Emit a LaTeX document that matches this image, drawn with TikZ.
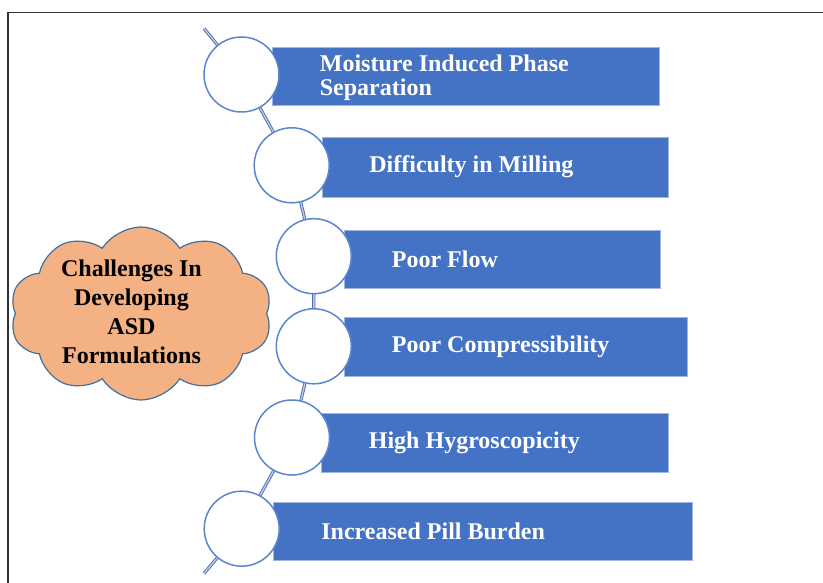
\documentclass[tikz,border=0pt]{standalone}
\usepackage{fontspec}
\setmainfont{Liberation Serif}
\usetikzlibrary{shapes.symbols}
\definecolor{barblue}{HTML}{4472C4}
\definecolor{baredge}{HTML}{9DB5E0}
\definecolor{ringblue}{HTML}{5B86CF}
\definecolor{linkout}{HTML}{4F6FAE}
\definecolor{linkin}{HTML}{BCC9E6}
\definecolor{cloudfill}{HTML}{F4B183}
\definecolor{cloudedge}{HTML}{41719C}
\definecolor{framegray}{HTML}{333333}
\tikzset{
  bar/.style={rectangle, fill=barblue, draw=baredge, line width=0.6pt, inner sep=0pt},
  ring/.style={circle, fill=white, draw=ringblue, line width=1.5pt, minimum size=75pt, inner sep=0pt},
  link/.style={draw=linkout, line width=0.9pt, double=linkin, double distance=1.4pt},
  bartext/.style={anchor=west, inner sep=0pt, text=white, align=left, font=\bfseries\fontsize{24}{24}\selectfont},
  cloudtext/.style={inner sep=0pt, text=black, align=center, font=\bfseries\fontsize{24}{28.8}\selectfont},
  cloudbox/.style={cloud, cloud puffs=10, cloud puff arc=115, cloud ignores aspect, fill=cloudfill, draw=cloudedge, line width=1.2pt, inner sep=0pt},
  frameline/.style={draw=framegray, line width=1.3pt}
}
\begin{document}
\begin{tikzpicture}[x=1pt, y=-1pt]
\useasboundingbox (0,0) rectangle (823,583);
% frame (only top and left visible)
\coordinate (ftl) at (8,12.5);
\coordinate (ftr) at (823,12.5);
\coordinate (fbl) at (8,583);
\draw[frameline] (ftr) -- (ftl) -- (fbl);

% connector end points
\coordinate (s) at (204,28.5);
\coordinate (e) at (204,573.5);

% circle positions
\coordinate (p1) at (241.5,74.5);
\coordinate (p2) at (291.7,165.3);
\coordinate (p3) at (313.8,256.2);
\coordinate (p4) at (313.8,346.3);
\coordinate (p5) at (292,437.5);
\coordinate (p6) at (241.7,528.7);

% connectors (behind)
\draw[link] (s) -- (p1) -- (p2) -- (p3) -- (p4) -- (p5) -- (p6) -- (e);

% bars
\node[bar, minimum width=387pt, minimum height=58pt] (r1) at (465.5,76) {};
\node[bar, minimum width=346pt, minimum height=60pt] (r2) at (495,167) {};
\node[bar, minimum width=316pt, minimum height=58pt] (r3) at (502,259) {};
\node[bar, minimum width=343pt, minimum height=59pt] (r4) at (515.5,346.5) {};
\node[bar, minimum width=347pt, minimum height=59pt] (r5) at (494.5,442.5) {};
\node[bar, minimum width=419pt, minimum height=58pt] (r6) at (482.5,531) {};

% circles
\node[ring] (c1) at (p1) {};
\node[ring] (c2) at (p2) {};
\node[ring] (c3) at (p3) {};
\node[ring] (c4) at (p4) {};
\node[ring] (c5) at (p5) {};
\node[ring] (c6) at (p6) {};

% bar texts
\node[bartext] (t1) at ([xshift=48pt,yshift=-2pt]r1.west) {Moisture Induced Phase\\Separation};
\node[bartext] (t2) at ([xshift=47.5pt]r2.west) {Difficulty in Milling};
\node[bartext] (t3) at ([xshift=48pt]r3.west) {Poor Flow};
\node[bartext] (t4) at ([xshift=48pt]r4.west) {Poor Compressibility};
\node[bartext] (t5) at ([xshift=48pt]r5.west) {High Hygroscopicity};
\node[bartext] (t6) at ([xshift=48.5pt]r6.west) {Increased Pill Burden};

% cloud
\node[cloudbox, minimum width=262pt, minimum height=173pt] (cl) at (141,313.5) {};
\node[cloudtext] (ct) at (131.5,312) {Challenges In\\Developing\\ASD\\Formulations};
\end{tikzpicture}
\end{document}
